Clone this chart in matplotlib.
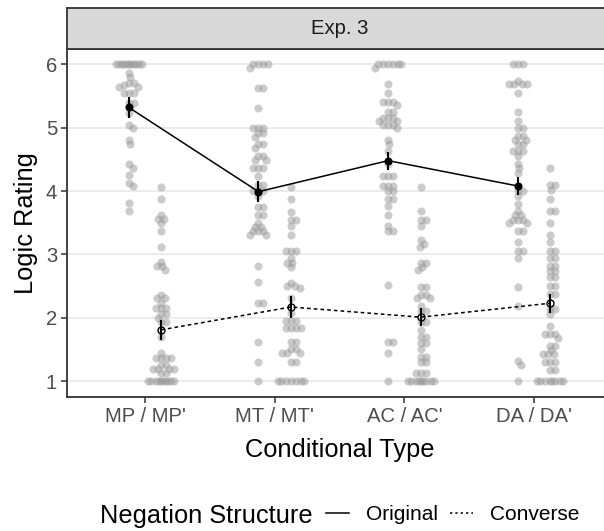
import numpy as np
import matplotlib.pyplot as plt
from matplotlib.lines import Line2D

plt.rcParams['font.family'] = ['Liberation Sans', 'DejaVu Sans']

# 数据
conds = ["MP / MP'", "MT / MT'", "AC / AC'", "DA / DA'"]
structures = ['Original', 'Converse']

mean_orig = [5.32, 3.99, 4.48, 4.08]
err_orig = [0.16, 0.17, 0.14, 0.14]
mean_conv = [1.81, 2.17, 2.01, 2.23]
err_conv = [0.16, 0.18, 0.14, 0.15]

mp_orig = [6] * 11 + [5.87, 5.8, 5.7, 5.7, 5.68, 5.65, 5.65, 5.55, 5.55, 5.55, 5.39, 5.39,
                      5.23, 5.05, 5.0, 4.81, 4.74, 4.42, 4.37, 4.25, 4.13, 4.08, 3.81, 3.68]
mp_conv = [4.06, 3.87, 3.62, 3.56, 3.56, 3.49, 3.37, 3.12, 2.88, 2.81, 2.81, 2.75, 2.36, 2.31,
           2.31, 2.24, 2.15, 2.15, 2.15, 2.06, 2.06, 2.0, 1.93, 1.93, 1.69, 1.45, 1.37, 1.37,
           1.37, 1.37, 1.25, 1.25, 1.19, 1.19, 1.19, 1.19, 1.13, 1.13] + [1] * 10
mt_orig = [6, 6, 6, 6, 5.94, 5.62, 5.62, 5.31, 5.0, 5.0, 5.0, 4.92, 4.92, 4.86, 4.74, 4.74,
           4.68, 4.55, 4.55, 4.49, 4.49, 4.36, 4.36, 4.36, 4.24, 4.1, 4.1, 4.0, 4.0, 4.0, 3.92,
           3.75, 3.75, 3.62, 3.62, 3.5, 3.44, 3.44, 3.37, 3.37, 3.37, 3.31, 3.31, 2.81, 2.57,
           2.24, 2.24, 1.62, 1.31, 1.0]
mt_conv = [4.06, 3.87, 3.67, 3.55, 3.55, 3.45, 3.31, 3.06, 3.06, 3.06, 2.94, 2.87, 2.87, 2.8,
           2.55, 2.5, 2.5, 2.47, 2.31, 2.08, 1.95, 1.95, 1.95, 1.84, 1.84, 1.84, 1.84, 1.62,
           1.62, 1.5, 1.5, 1.45, 1.45, 1.45, 1.31, 1.31] + [1] * 7
ac_orig = [6] * 6 + [5.94, 5.69, 5.55, 5.41, 5.41, 5.41, 5.36, 5.24, 5.24, 5.15, 5.15, 5.15,
                     5.11, 5.11, 5.05, 5.05, 5.05, 5.0, 4.81, 4.74, 4.63, 4.42, 4.24, 4.24, 4.24,
                     4.08, 4.08, 4.08, 4.0, 4.0, 3.88, 3.88, 3.76, 3.62, 3.45, 3.37, 3.37, 2.51,
                     1.62, 1.62, 1.44, 1.0]
ac_conv = [4.06, 3.68, 3.55, 3.55, 3.45, 3.23, 3.17, 3.12, 2.87, 2.87, 2.8, 2.75, 2.49, 2.49,
           2.36, 2.36, 2.31, 2.31, 2.19, 2.11, 2.11, 1.93, 1.93, 1.8, 1.69, 1.69, 1.61, 1.61,
           1.5, 1.38, 1.38, 1.3, 1.3, 1.13, 1.13, 1.13] + [1] * 9
da_orig = [6, 6, 6, 5.74, 5.69, 5.69, 5.69, 5.69, 5.55, 5.24, 5.11, 5.0, 5.0, 4.87, 4.87, 4.81,
           4.81, 4.74, 4.74, 4.63, 4.63, 4.63, 4.55, 4.43, 4.36, 4.29, 4.0, 4.0, 3.92, 3.8,
           3.68, 3.62, 3.62, 3.55, 3.55, 3.55, 3.5, 3.5, 3.37, 3.37, 3.19, 3.06, 3.06, 2.94,
           2.49, 2.19, 1.32, 1.26, 1.0]
da_conv = [4.37, 4.09, 4.09, 4.02, 3.87, 3.68, 3.68, 3.5, 3.31, 3.19, 3.06, 3.06, 2.94, 2.94,
           2.82, 2.82, 2.74, 2.74, 2.64, 2.64, 2.5, 2.5, 2.37, 2.37, 2.14, 2.14, 2.06, 1.87,
           1.74, 1.74, 1.74, 1.68, 1.56, 1.56, 1.49, 1.43, 1.43, 1.43, 1.3, 1.3, 1.3, 1.18,
           1.18] + [1] * 8

raw_orig = [mp_orig, mt_orig, ac_orig, da_orig]
raw_conv = [mp_conv, mt_conv, ac_conv, da_conv]


def swarm(ax, xc, ys, min_d=4.5, max_w=13.0):
    # 简单的蜂群排列，在像素坐标里避开重叠
    ys = np.asarray(ys, dtype=float)
    order = np.argsort(-ys, kind='stable')
    pix = ax.transData.transform(np.column_stack([np.full(len(ys), xc), ys]))
    x0 = pix[0, 0]
    cands = [0.0]
    for k in np.arange(1, max_w + 0.01, 1.0):
        cands += [k, -k]
    placed = []
    xs_pix = np.zeros(len(ys))
    for i in order:
        py = pix[i, 1]
        best, best_d = 0.0, -1
        for c in cands:
            if placed:
                arr = np.array(placed)
                d = np.min(np.hypot(arr[:, 0] - (x0 + c), arr[:, 1] - py))
            else:
                d = np.inf
            if d >= min_d:
                best = c
                break
            if d > best_d:
                best, best_d = c, d
        placed.append((x0 + best, py))
        xs_pix[i] = x0 + best
    back = ax.transData.inverted().transform(np.column_stack([xs_pix, pix[:, 1]]))
    return back[:, 0]


fig = plt.figure(figsize=(6.04, 5.31), dpi=100)
W, H = 604, 531
ax = fig.add_axes([67.2 / W, (H - 397) / H, 544.6 / W, 348.5 / H])
ax.set_xlim(0.4, 4.6)
ax.set_ylim(0.75, 6.25)

xpos = np.arange(1, len(conds) + 1)
dodge = 0.125

for i in range(len(conds)):
    for raw, off in [(raw_orig[i], -dodge), (raw_conv[i], dodge)]:
        xs = swarm(ax, xpos[i] + off, raw)
        ax.scatter(xs, raw, s=34, color='#999999', alpha=0.5, linewidths=0, zorder=2)

dash = (0, (2.4, 2.0))
ax.plot(xpos - dodge, mean_orig, color='black', lw=1.1, zorder=3)
ax.plot(xpos + dodge, mean_conv, color='black', lw=1.1, linestyle=dash, zorder=3)
ax.errorbar(xpos - dodge, mean_orig, yerr=err_orig, fmt='none', ecolor='black', elinewidth=1.5, zorder=4)
ax.errorbar(xpos + dodge, mean_conv, yerr=err_conv, fmt='none', ecolor='black', elinewidth=1.5, zorder=4)
ax.plot(xpos - dodge, mean_orig, 'o', color='black', ms=4.8, zorder=5)
ax.plot(xpos + dodge, mean_conv, 'o', mfc='none', mec='black', mew=1.0, ms=5.0, zorder=5)

# 坐标轴样式（仿 ggplot theme_bw）
ax.set_xticks(xpos)
ax.set_xticklabels(conds)
ax.set_yticks([1, 2, 3, 4, 5, 6])
ax.tick_params(length=4.3, width=1.1, color='#333333', labelcolor='#4D4D4D',
               labelsize=14.6, pad=3)
ax.yaxis.grid(True, color='#EBEBEB', lw=1.3, zorder=0)
ax.set_axisbelow(True)
for sp in ax.spines.values():
    sp.set_color('#333333')
    sp.set_linewidth(1.3)

ax.set_xlabel('Conditional Type', fontsize=18.3, color='black')
ax.xaxis.set_label_coords(0.5, -0.118)
ax.set_ylabel('Logic Rating', fontsize=18.3, color='black')
ax.yaxis.set_label_coords(-0.054, 0.5)

# 分面标签
strip = fig.add_axes([67.2 / W, (H - 48.5) / H, 544.6 / W, 40.9 / H])
strip.set_facecolor('#D9D9D9')
strip.set_xticks([])
strip.set_yticks([])
for sp in strip.spines.values():
    sp.set_color('#333333')
    sp.set_linewidth(1.3)
fig.text(339.5 / W, (H - 28) / H, 'Exp. 3', ha='center', va='center',
         fontsize=14.6, color='#1A1A1A')

# 图例
fig.text(100 / W, (H - 523) / H, 'Negation Structure', ha='left', va='baseline',
         fontsize=18.3, color='black')
handles = [Line2D([], [], color='black', lw=1.1),
           Line2D([], [], color='black', lw=1.1, linestyle=(0, (1.5, 2.0)))]
fig.legend(handles, structures, ncol=2, loc='center left',
           bbox_to_anchor=(326 / W, (H - 515) / H), frameon=False, fontsize=15.0,
           handlelength=1.1, handletextpad=0.8, columnspacing=0.6,
           borderaxespad=0, borderpad=0)

fig.savefig('out.png', dpi=100)
